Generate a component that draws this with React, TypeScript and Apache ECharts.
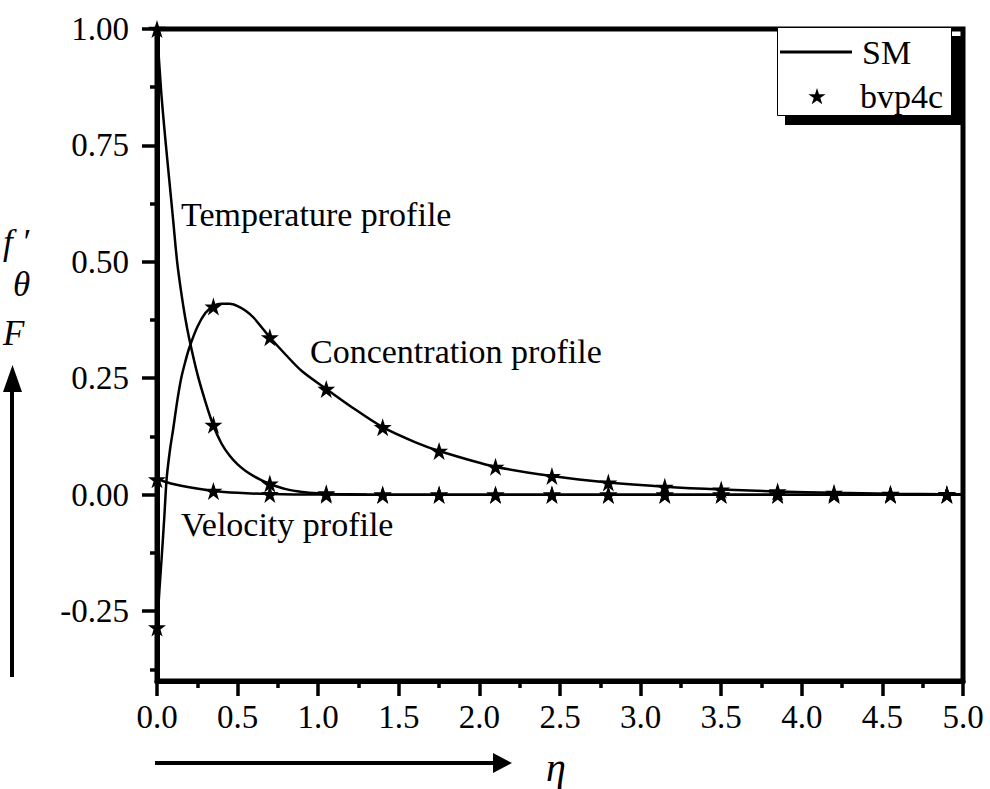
import React, { useEffect, useRef } from "react";
import * as echarts from "echarts";

// ---- data ----
const yMinorTicks = [-0.375, -0.125, 0.125, 0.375, 0.625, 0.875];
const legendNames = ["SM", "bvp4c"];

// SM solution (solid lines)
const smTempX = [0, 0.025, 0.05, 0.075, 0.1, 0.125, 0.15, 0.175, 0.2, 0.25, 0.3, 0.35, 0.4, 0.45, 0.5, 0.55, 0.6, 0.65, 0.7, 0.8, 0.9, 1.0, 1.1, 1.3, 1.6, 2, 3, 4, 5];
const smTempY = [1.0, 0.87, 0.77, 0.68, 0.59, 0.5, 0.435, 0.38, 0.335, 0.26, 0.2, 0.148, 0.11, 0.084, 0.065, 0.051, 0.04, 0.031, 0.023, 0.012, 0.006, 0.003, 0.0015, 0.0005, 0, 0, 0, 0, 0];

const smConcX = [0, 0.015, 0.03, 0.045, 0.06, 0.08, 0.1, 0.125, 0.15, 0.175, 0.2, 0.25, 0.3, 0.35, 0.4, 0.45, 0.5, 0.55, 0.6, 0.7, 0.8, 0.9, 1.05, 1.2, 1.4, 1.6, 1.75, 2.1, 2.45, 2.8, 3.15, 3.5, 3.85, 4.2, 4.55, 4.9, 5.0];
const smConcY = [-0.285, -0.205, -0.13, -0.05, 0.035, 0.095, 0.14, 0.2, 0.25, 0.285, 0.315, 0.36, 0.39, 0.405, 0.41, 0.41, 0.405, 0.395, 0.38, 0.338, 0.3, 0.265, 0.227, 0.19, 0.145, 0.113, 0.094, 0.06, 0.04, 0.026, 0.017, 0.011, 0.007, 0.004, 0.002, 0.001, 0.001];

const smVelX = [0, 0.05, 0.1, 0.2, 0.35, 0.5, 0.7, 1.0, 1.5, 2, 3, 4, 5];
const smVelY = [0.033, 0.028, 0.023, 0.016, 0.008, 0.004, 0.0015, 0.0003, 0, 0, 0, 0, 0];

// bvp4c solution (stars)
const bvpX = [0, 0.35, 0.7, 1.05, 1.4, 1.75, 2.1, 2.45, 2.8, 3.15, 3.5, 3.85, 4.2, 4.55, 4.9];
const bvpTemp = [1.0, 0.15, 0.024, 0.003, 0, 0, 0, 0, 0, 0, 0, 0, 0, 0, 0];
const bvpConc = [-0.285, 0.404, 0.338, 0.227, 0.145, 0.094, 0.06, 0.04, 0.026, 0.017, 0.011, 0.007, 0.004, 0.002, 0.001];
const bvpVel = [0.033, 0.008, 0.0015, 0, 0, 0, 0, 0, 0, 0, 0, 0, 0, 0, 0];

const STAR = "path://M50,0 L61.2,34.5 L97.6,34.5 L68.2,55.9 L79.4,90.5 L50,69.1 L20.6,90.5 L31.8,55.9 L2.4,34.5 L38.8,34.5 Z";
const SERIF = '"Liberation Serif", "Times New Roman", serif';

const zip = (xs: number[], ys: number[]) => xs.map((x, i) => [x, ys[i]]);

export default function App() {
  const ref = useRef<HTMLDivElement>(null);
  useEffect(() => {
    if (!ref.current) return;
    const chart = echarts.init(ref.current, undefined, { renderer: "svg" });
    const lineSeries = (data: number[][]) => ({
      type: "line",
      name: legendNames[0],
      data,
      smooth: 0.3,
      symbol: "none",
      showSymbol: false,
      lineStyle: { color: "#000", width: 2.5 },
      itemStyle: { color: "#000" },
      z: 2,
    });
    const starSeries = (data: number[][]) => ({
      type: "scatter",
      name: legendNames[1],
      data,
      symbol: STAR,
      symbolSize: 18,
      itemStyle: { color: "#000", opacity: 1 },
      z: 2,
    });
    const txt = (text: string, x: number, y: number, size: number, italic = false) => ({
      type: "text",
      x,
      y,
      z: 10,
      style: {
        text,
        fill: "#000",
        fontSize: size,
        fontFamily: SERIF,
        fontStyle: italic ? "italic" : "normal",
        textAlign: "left",
        textVerticalAlign: "middle",
        verticalAlign: "middle",
      },
    });
    chart.setOption({
      animation: false,
      backgroundColor: "#fff",
      grid: [
        {
          left: 157,
          right: 27,
          top: 29,
          bottom: 108,
          show: true,
          z: 3,
          borderColor: "#000",
          borderWidth: 5,
          backgroundColor: "transparent",
        },
        // same pixel scale, spanning -0.25 .. 1.00, used for the labelled major ticks
        { left: 157, right: 27, top: 29, bottom: 178, show: false },
      ],
      xAxis: [
        {
          type: "value",
          gridIndex: 0,
          min: 0,
          max: 5,
          interval: 0.5,
          z: 5,
          axisLine: { show: true, onZero: false, lineStyle: { color: "#000", width: 5 } },
          axisTick: { show: true, inside: false, length: 15, lineStyle: { color: "#000", width: 3.5 } },
          minorTick: { show: true, splitNumber: 2, length: 7, lineStyle: { color: "#000", width: 3.5 } },
          splitLine: { show: false },
          axisLabel: {
            margin: 19,
            color: "#000",
            fontSize: 33,
            fontFamily: SERIF,
            formatter: (v: number) => v.toFixed(1),
          },
        },
        { type: "value", gridIndex: 1, min: 0, max: 5, show: false },
      ],
      yAxis: [
        {
          type: "value",
          gridIndex: 0,
          min: -0.4,
          max: 1.0,
          z: 5,
          axisLine: { show: true, onZero: false, lineStyle: { color: "#000", width: 5 } },
          axisTick: { show: true, inside: false, length: 7, customValues: yMinorTicks, lineStyle: { color: "#000", width: 3.5 } },
          splitLine: { show: false },
          axisLabel: { show: false },
        },
        {
          type: "value",
          gridIndex: 1,
          min: -0.25,
          max: 1.0,
          interval: 0.25,
          z: 5,
          axisLine: { show: true, onZero: false, lineStyle: { color: "#000", width: 5 } },
          axisTick: { show: true, inside: false, length: 15, lineStyle: { color: "#000", width: 3.5 } },
          splitLine: { show: false },
          axisLabel: {
            margin: 28,
            color: "#000",
            fontSize: 33,
            fontFamily: SERIF,
            formatter: (v: number) => v.toFixed(2),
          },
        },
      ],
      graphic: [
        // legend box with offset shadow
        { type: "rect", z: 20, shape: { x: 785, y: 36, width: 177, height: 89 }, style: { fill: "#000" } },
        { type: "rect", z: 21, shape: { x: 777.5, y: 27.5, width: 174, height: 88 }, style: { fill: "#fff", stroke: "#000", lineWidth: 1 } },
        { type: "line", z: 22, shape: { x1: 780, y1: 52, x2: 852, y2: 52 }, style: { stroke: "#000", lineWidth: 3 } },
        {
          type: "polygon",
          z: 22,
          shape: {
            points: [
              [817, 88], [819, 94.2], [825.6, 94.2], [820.3, 98.1], [822.3, 104.3],
              [817, 100.4], [811.7, 104.3], [813.7, 98.1], [808.4, 94.2], [815, 94.2],
            ],
          },
          style: { fill: "#000" },
        },
        { ...txt(legendNames[0], 862, 52, 34), z: 22 },
        { ...txt(legendNames[1], 860, 96, 34), z: 22 },
        // vertical arrow
        { type: "line", shape: { x1: 12, y1: 677, x2: 12, y2: 390 }, style: { stroke: "#000", lineWidth: 4 } },
        { type: "polygon", shape: { points: [[3, 392], [22, 392], [12.5, 365]] }, style: { fill: "#000" } },
        // horizontal arrow
        { type: "line", shape: { x1: 155, y1: 763, x2: 495, y2: 763 }, style: { stroke: "#000", lineWidth: 4 } },
        { type: "polygon", shape: { points: [[493, 753], [493, 773], [512, 763]] }, style: { fill: "#000" } },
        txt("f \u2032", 3, 242, 35, true),
        txt("\u03B8", 13, 284, 35, true),
        txt("F", 3, 333, 35, true),
        txt("\u03B7", 546, 767, 40, true),
        txt("Temperature profile", 181, 214, 34),
        txt("Concentration profile", 310, 351, 34),
        txt("Velocity profile", 181, 524, 34),
      ],
      series: [
        lineSeries(zip(smTempX, smTempY)),
        lineSeries(zip(smConcX, smConcY)),
        lineSeries(zip(smVelX, smVelY)),
        starSeries(zip(bvpX, bvpTemp)),
        starSeries(zip(bvpX, bvpConc)),
        starSeries(zip(bvpX, bvpVel)),
      ],
    });
    return () => chart.dispose();
  }, []);
  return (
    <div
      ref={ref}
      style={{ position: "fixed", left: 0, top: 0, width: 990, height: 789, background: "#fff" }}
    />
  );
}
